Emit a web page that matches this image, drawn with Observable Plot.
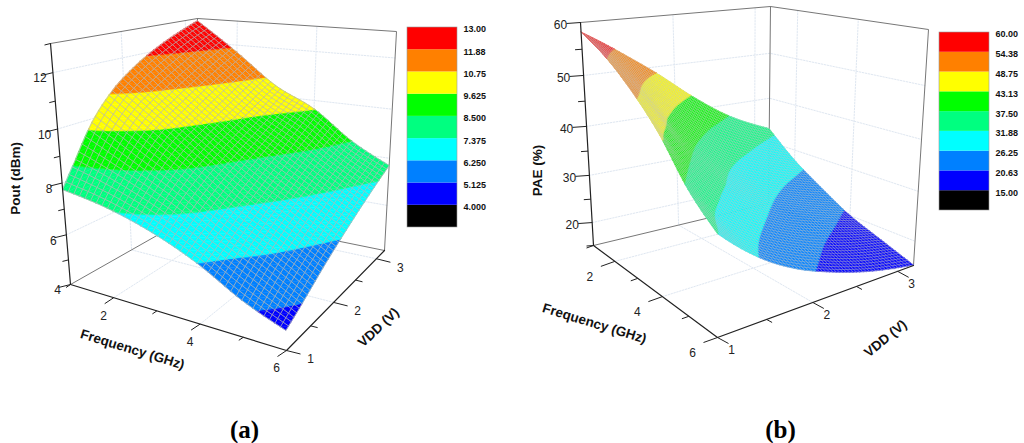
<!DOCTYPE html>
<html><head><meta charset="utf-8">
<script src="https://cdn.jsdelivr.net/npm/d3@7"></script>
<script src="https://cdn.jsdelivr.net/npm/@observablehq/plot@0.6"></script>
<style>html,body{margin:0;padding:0;background:#fff}#row{display:flex;width:1024px;height:443px;overflow:hidden}svg{display:block}</style>
</head><body><div id="row"></div>
<script>
// ---- values ----
const freqGrid = [1, 2, 3, 4, 5, 6];
const vddGrid = [1, 1.2, 1.5, 1.8, 2.2, 2.6, 3.2];
const poutF1 = [7.75, 8.6, 9.88, 10.78, 11.6, 12.2, 12.9];
const poutF2 = [7.45, 8.05, 8.9, 9.625, 10.25, 10.85, 11.7];
const poutF3 = [6.95, 7.375, 8.0, 8.53, 9.1, 9.625, 10.45];
const poutF4 = [6.25, 6.55, 7.0, 7.47, 8.07, 8.67, 9.65];
const poutF5 = [5.35, 5.72, 6.22, 6.65, 7.2, 7.75, 8.5];
const poutF6 = [4.72, 4.95, 5.35, 5.78, 6.33, 6.88, 7.7];
const paeF1 = [58.2, 56.0, 52.4, 48.6, 43.0, 38.1, 33.0];
const paeF2 = [54.6, 51.5, 46.5, 41.5, 35.9, 32.1, 27.7];
const paeF3 = [49.85, 46.2, 39.9, 35.0, 30.2, 27.1, 23.6];
const paeF4 = [44.1, 39.4, 34.0, 30.3, 26.25, 23.5, 20.0];
const paeF5 = [36.9, 33.0, 29.0, 25.9, 22.6, 20.1, 17.5];
const paeF6 = [32.0, 29.0, 25.2, 22.3, 19.5, 17.3, 15.1];
const poutLevels = [4, 5.125, 6.25, 7.375, 8.5, 9.625, 10.75, 11.88, 13];
const poutLabels = ["4.000", "5.125", "6.250", "7.375", "8.500", "9.625", "10.75", "11.88", "13.00"];
const paeLevels = [15, 20.63, 26.25, 31.88, 37.5, 43.13, 48.75, 54.38, 60];
const paeLabels = ["15.00", "20.63", "26.25", "31.88", "37.50", "43.13", "48.75", "54.38", "60.00"];
const bandColors = ["#000000", "#0000ff", "#0080ff", "#00ffff", "#00ff80", "#00ff00", "#ffff00", "#ff8000", "#ff0000"];
const freqTicks = [1, 2, 3, 4, 5, 6];
const vddTicks = [1, 1.5, 2, 2.5, 3];
const poutTicks = [4, 5, 6, 7, 8, 9, 10, 11, 12, 13];
const paeTicks = [15, 20, 25, 30, 35, 40, 45, 50, 55, 60];

// ---- view settings: Plot has no 3D, so a small camera maps (f, v, z) to the x/y scales ----
const sans = "Liberation Sans, Arial, sans-serif";
const fMin = 1, fMax = 6, vMin = 1, vMax = 3.2;
const warp = (u, k) => u / (u + k * (1 - u));
function camera(c) {
  return (f, v, z) => {
    const u = warp((f - fMin) / (fMax - fMin), c.kf), t = warp((v - vMin) / (vMax - vMin), c.kv);
    const w = warp((z - c.zMin) / (c.zMax - c.zMin), c.kz);
    const mix = (i) => (1 - u) * (1 - t) * (c.L[i] + w * c.lL[i]) + u * (1 - t) * (c.F[i] + w * c.lF[i]) +
      (1 - u) * t * (c.B[i] + w * c.lB[i]) + u * t * (c.R[i] + w * c.lR[i]);
    return {x: mix(0), y: mix(1)};
  };
}
function spline(xs, ys, x) {
  const n = xs.length;
  let i = 0;
  while (i < n - 2 && x > xs[i + 1]) i++;
  const dx = (j) => xs[j + 1] - xs[j];
  const sl = (j) => (ys[j + 1] - ys[j]) / dx(j);
  const m = (j) => j === 0 ? (3 * sl(0) - m(1)) / 2 : j === n - 1 ? (3 * sl(n - 2) - m(n - 2)) / 2
    : (sl(j - 1) * dx(j) + sl(j) * dx(j - 1)) / (dx(j - 1) + dx(j));
  const h = dx(i), s = (x - xs[i]) / h;
  return (2*s*s*s - 3*s*s + 1) * ys[i] + (s*s*s - 2*s*s + s) * h * m(i) +
    (-2*s*s*s + 3*s*s) * ys[i + 1] + (s*s*s - s*s) * h * m(i + 1);
}
function clip(poly, c, sign) {
  const out = [];
  poly.forEach((a, i) => {
    const b = poly[(i + 1) % poly.length];
    const da = sign * (a.z - c), db = sign * (b.z - c);
    if (da >= 0) out.push(a);
    if (da * db < 0) {
      const s = da / (da - db);
      out.push({f: a.f + s * (b.f - a.f), v: a.v + s * (b.v - a.v), z: c});
    }
  });
  return out;
}

function panel(c) {
  const P = camera(c);
  const value = (f, v) => spline(freqGrid, c.rows.map((r) => spline(vddGrid, r, v)), f);
  // band polygons and mesh of the surface
  const verts = [], mesh = [];
  const N = c.mesh;
  const fAt = (i) => fMin + (fMax - fMin) * i / N, vAt = (j) => vMin + (vMax - vMin) * j / N;
  const bands = c.levels.slice(0, -1).map((lo, i) => ({lo, hi: i === c.levels.length - 2 ? 1e3 : c.levels[i + 1], mid: (lo + c.levels[i + 1]) / 2}));
  const node = Array.from({length: N + 1}, (_, i) => Array.from({length: N + 1}, (_, j) => ({f: fAt(i), v: vAt(j), z: value(fAt(i), vAt(j))})));
  let id = 0;
  for (let i = 0; i < N; i++) for (let j = N - 1; j >= 0; j--) {
    const a = node[i][j], b = node[i + 1][j], d = node[i + 1][j + 1], e = node[i][j + 1];
    for (const tri of [[a, b, d], [a, d, e]]) {
      const zs = tri.map((q) => q.z), lo = Math.min(...zs), hi = Math.max(...zs);
      for (const bd of bands) {
        if (hi < bd.lo || lo > bd.hi) continue;
        const poly = clip(clip(tri, bd.lo, 1), bd.hi, -1);
        if (poly.length < 3) continue;
        id++;
        for (const q of poly) { const p = P(q.f, q.v, q.z); verts.push({id, x: p.x, y: p.y, value: bd.mid}); }
      }
    }
  }
  for (let i = 0; i <= N; i++) {
    for (let j = 0; j <= N; j++) {
      const p = P(node[i][j].f, node[i][j].v, node[i][j].z); mesh.push({id: "f" + i, x: p.x, y: p.y});
      const q = P(node[j][i].f, node[j][i].v, node[j][i].z); mesh.push({id: "v" + i, x: q.x, y: q.y});
    }
  }
  const line = (id, pts) => pts.map(([f, v, z]) => ({id, ...P(f, v, z)}));
  const grid = [];
  c.zGrid.forEach((z) => grid.push(...line("z" + z, [[fMin, vMin, z], [fMin, vMax, z], [fMax, vMax, z]])));
  [2, 4].forEach((f) => grid.push(...line("f" + f, [[f, vMin, c.zMin], [f, vMax, c.zMin], [f, vMax, c.zMax]])));
  [2, 3].forEach((v) => grid.push(...line("v" + v, [[fMax, v, c.zMin], [fMin, v, c.zMin], [fMin, v, c.zMax]])));
  const back = [
    ...line("floor", [[fMin, vMin, c.zMin], [fMin, vMax, c.zMin], [fMax, vMax, c.zMin]]),
    ...line("top", [[fMin, vMin, c.zMax], [fMin, vMax, c.zMax], [fMax, vMax, c.zMax], [fMax, vMax, c.zMin]]),
    ...line("bv", [[fMin, vMax, c.zMin], [fMin, vMax, c.zMax]])
  ];
  const axes = [
    ...line("zaxis", [[fMin, vMin, c.zMin], [fMin, vMin, c.zMax]]),
    ...line("faxis", [[fMin, vMin, c.zMin], [fMax, vMin, c.zMin]]),
    ...line("vaxis", [[fMax, vMin, c.zMin], [fMax, vMax, c.zMin]])
  ];
  const ticks = [], labels = [];
  const tick = (p, off, major) => { const s = major ? 1 : .5; ticks.push({x1: p.x, y1: p.y, x2: p.x + off[0] * s, y2: p.y + off[1] * s}); };
  c.zTicks.forEach((z) => {
    const p = P(fMin, vMin, z), major = c.zMajor.includes(z);
    tick(p, c.zTick, major);
    if (major && c.zLabeled.includes(z)) labels.push({text: String(z), x: p.x + c.zLab[0], y: p.y + c.zLab[1], a: "end"});
  });
  freqTicks.forEach((f) => {
    const p = P(f, vMin, c.zMin), major = f % 2 === 0;
    tick(p, c.fTick, major);
    if (major) labels.push({text: String(f), x: p.x + c.fLab[0], y: p.y + c.fLab[1], a: "middle"});
  });
  vddTicks.forEach((v) => {
    const p = P(fMax, v, c.zMin), major = Number.isInteger(v);
    tick(p, c.vTick, major);
    if (major) labels.push({text: String(v), x: p.x + c.vLab[0], y: p.y + c.vLab[1], a: "middle"});
  });
  // legend
  const lg = c.legend, step = (lg.y2 - lg.y1) / 9;
  const swatches = bandColors.map((_, i) => ({
    value: i === 0 ? c.levels[0] - 1 : (c.levels[i - 1] + c.levels[i]) / 2,
    y1: lg.y2 - i * step, y2: lg.y2 - (i + 1) * step
  }));
  const legendText = c.labels.map((text, i) => ({text, y: lg.y2 - (i + 1) * step + lg.dy}));
  return Plot.plot({
    width: 512, height: 443, margin: 0,
    x: {domain: c.xDomain, range: [0, 512], axis: null},
    y: {domain: [0, 443], range: [0, 443], axis: null},
    color: {type: "threshold", domain: c.levels.slice(0, -1), range: bandColors},
    style: {fontFamily: sans, background: "#fff", overflow: "visible"},
    marks: [
      Plot.line(grid, {x: "x", y: "y", z: "id", stroke: "#dfe7f1", strokeWidth: 1, strokeDasharray: "1.5,1.5"}),
      Plot.line(back, {x: "x", y: "y", z: "id", stroke: "#777", strokeWidth: 1}),
      Plot.line(verts, {x: "x", y: "y", z: "id", fill: "value", stroke: "value", strokeWidth: .5, curve: "linear-closed"}),
      Plot.line(mesh, {x: "x", y: "y", z: "id", stroke: c.meshColor, strokeWidth: c.meshWidth, strokeOpacity: c.meshOpacity}),
      Plot.line(axes, {x: "x", y: "y", z: "id", stroke: "#222", strokeWidth: 1.2}),
      Plot.link(ticks, {x1: "x1", y1: "y1", x2: "x2", y2: "y2", stroke: "#222", strokeWidth: 1}),
      Plot.text(labels, {x: "x", y: "y", text: "text", textAnchor: "a", fontSize: 12, fill: "#222"}),
      Plot.text([c.zTitle], {x: "x", y: "y", text: "text", rotate: -90, fontSize: 13.5, fontWeight: "bold", fill: "#111"}),
      Plot.text([c.fTitle], {x: "x", y: "y", text: "text", rotate: c.fTitle.r, fontSize: 13.5, fontWeight: "bold", fill: "#111"}),
      Plot.text([c.vTitle], {x: "x", y: "y", text: "text", rotate: c.vTitle.r, fontSize: 13.5, fontWeight: "bold", fill: "#111"}),
      Plot.rect(swatches, {x1: lg.x1, x2: lg.x2, y1: "y1", y2: "y2", fill: "value"}),
      Plot.rect([0], {x1: lg.x1, x2: lg.x2, y1: lg.y1, y2: lg.y2, stroke: "#999", strokeWidth: .6, fill: "none"}),
      Plot.text(legendText, {x: lg.x2 + 6, y: "y", text: "text", textAnchor: "start", fontSize: 9, fontWeight: "bold", fill: "#111"}),
      Plot.text([c.tag], {x: "x", y: 429, text: "text", fontSize: 25, fontWeight: "bold", fontFamily: "Liberation Serif, Times New Roman, serif", fill: "#000"})
    ]
  });
}

const row = document.getElementById("row");
row.append(panel({
  xDomain: [0, 512], rows: [poutF1, poutF2, poutF3, poutF4, poutF5, poutF6], levels: poutLevels, labels: poutLabels,
  zMin: 4, zMax: 13, kf: 1, kv: .9, kz: 1.1,
  L: [70, 284], F: [286, 350], B: [197, 212], R: [384, 250],
  lL: [-20, -241], lF: [-8, -275], lB: [0, -194], lR: [12, -219],
  mesh: 40, meshColor: "#b4b4b4", meshWidth: .8, meshOpacity: .95,
  zTicks: poutTicks, zMajor: [4, 6, 8, 10, 12], zLabeled: [4, 6, 8, 10, 12], zGrid: [6, 8, 10, 12],
  zTick: [-12, 3], fTick: [-9, 6], vTick: [14, 3.5], zLab: [-13, 6], fLab: [-10, 18], vLab: [24, 9],
  zTitle: {text: "Pout (dBm)", x: 15, y: 178}, fTitle: {text: "Frequency (GHz)", x: 132, y: 349, r: 17},
  vTitle: {text: "VDD (V)", x: 378, y: 327, r: -43},
  legend: {x1: 407, x2: 457, y1: 27, y2: 227, dy: 2}, tag: {text: "(a)", x: 244}
}));
row.append(panel({
  xDomain: [512, 1024], rows: [paeF1, paeF2, paeF3, paeF4, paeF5, paeF6], levels: paeLevels, labels: paeLabels,
  zMin: 15, zMax: 60, kf: 1.2, kv: .88, kz: 1.09,
  L: [593, 245], F: [717, 337], B: [768, 203], R: [913, 265],
  lL: [-13, -223], lF: [0, -290], lB: [2, -197], lR: [15, -236],
  mesh: 56, meshColor: "#c4c4c4", meshWidth: .55, meshOpacity: .9,
  zTicks: paeTicks, zMajor: [20, 30, 40, 50, 60], zLabeled: [20, 30, 40, 50, 60], zGrid: [20, 30, 40, 50],
  zTick: [-14, 1], fTick: [-14, 5], vTick: [11, 6], zLab: [-20, 3], fLab: [-25, 16], vLab: [14, 13],
  zTitle: {text: "PAE (%)", x: 537, y: 170}, fTitle: {text: "Frequency (GHz)", x: 594, y: 323, r: 17},
  vTitle: {text: "VDD (V)", x: 885, y: 338, r: -39},
  legend: {x1: 939, x2: 989, y1: 32, y2: 210, dy: 2}, tag: {text: "(b)", x: 780}
}));
</script></body></html>
